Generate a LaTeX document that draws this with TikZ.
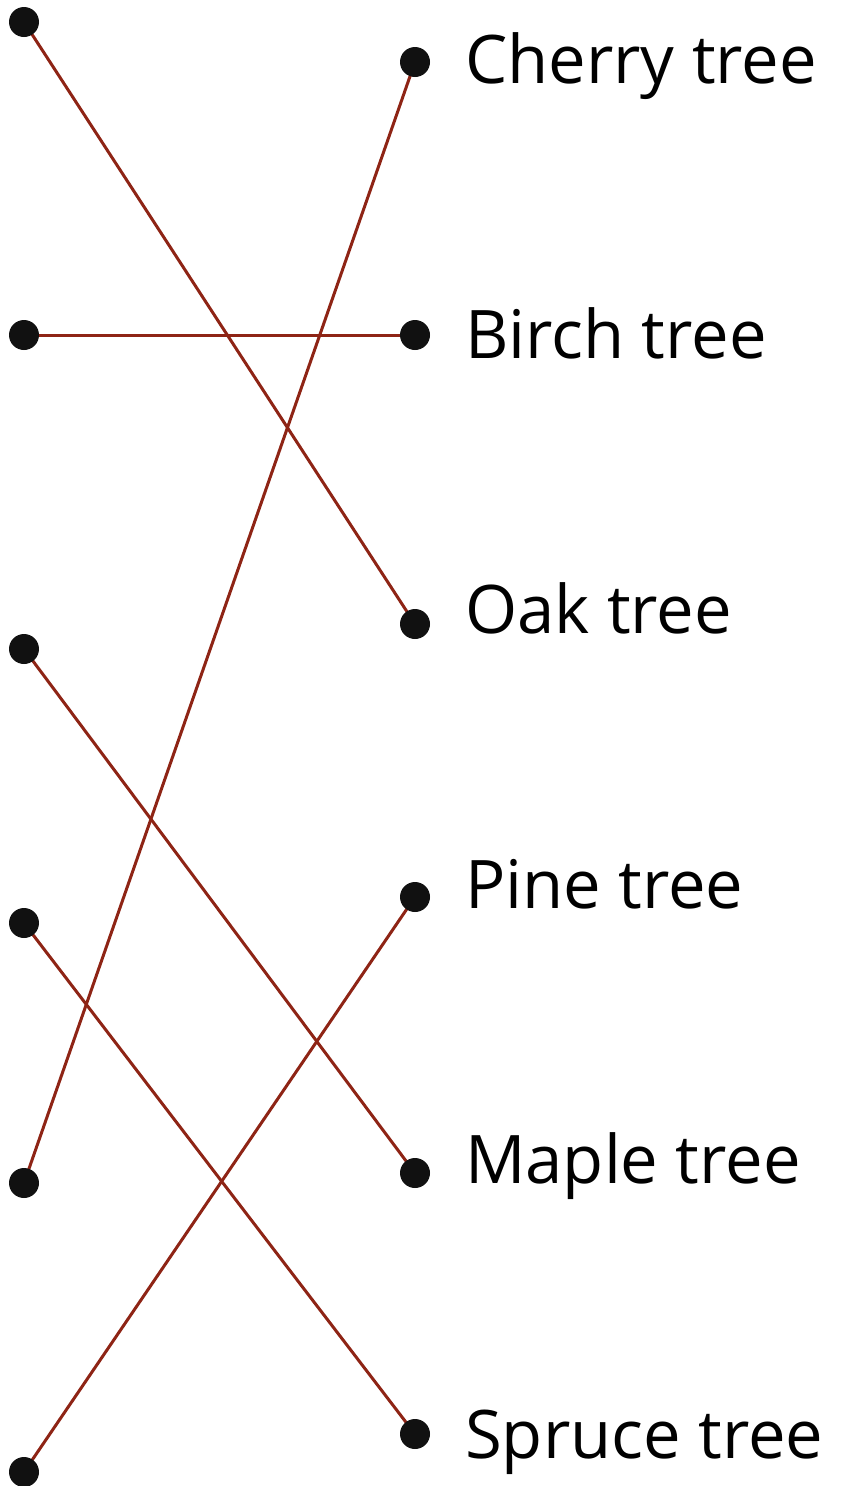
\documentclass[tikz,border=0pt]{standalone}
\usepackage{fontspec}
\setmainfont{Open Sans}
\usetikzlibrary{backgrounds}
\definecolor{linkred}{HTML}{8E2415}
\definecolor{dotblack}{HTML}{111111}
\tikzset{
  dotnode/.style={circle,fill=dotblack,draw=none,minimum size=30pt,inner sep=0pt},
  labelnode/.style={anchor=base west,inner sep=0pt,font=\fontsize{67}{67}\selectfont,text=black},
  link/.style={draw=linkred,line width=3pt}
}
\begin{document}
\begin{tikzpicture}[x=1pt,y=1pt]
\useasboundingbox (0,0) rectangle (841,-1486);
% left dots
\node[dotnode] (l1) at (24,-22) {};
\node[dotnode] (l2) at (24,-335) {};
\node[dotnode] (l3) at (24,-649) {};
\node[dotnode] (l4) at (24,-923) {};
\node[dotnode] (l5) at (24,-1183) {};
\node[dotnode] (l6) at (24,-1472) {};
% right dots
\node[dotnode] (cherry) at (415,-62) {};
\node[dotnode] (birch) at (415,-335) {};
\node[dotnode] (oak) at (415,-624) {};
\node[dotnode] (pine) at (415,-897) {};
\node[dotnode] (maple) at (415,-1173) {};
\node[dotnode] (spruce) at (415,-1434) {};
% labels
\node[labelnode] (tcherry) at (465,-83) {Cherry tree};
\node[labelnode] (tbirch) at (465,-358) {Birch tree};
\node[labelnode] (toak) at (465,-633) {Oak tree};
\node[labelnode] (tpine) at (465,-908) {Pine tree};
\node[labelnode] (tmaple) at (465,-1183) {Maple tree};
\node[labelnode] (tspruce) at (465,-1458) {Spruce tree};
% connectors
\begin{scope}[on background layer]
\draw[link] (l1.center) -- (oak.center);
\draw[link] (l2.center) -- (birch.center);
\draw[link] (l3.center) -- (maple.center);
\draw[link] (l4.center) -- (spruce.center);
\draw[link] (l5.center) -- (cherry.center);
\draw[link] (l6.center) -- (pine.center);
\end{scope}
\end{tikzpicture}
\end{document}
